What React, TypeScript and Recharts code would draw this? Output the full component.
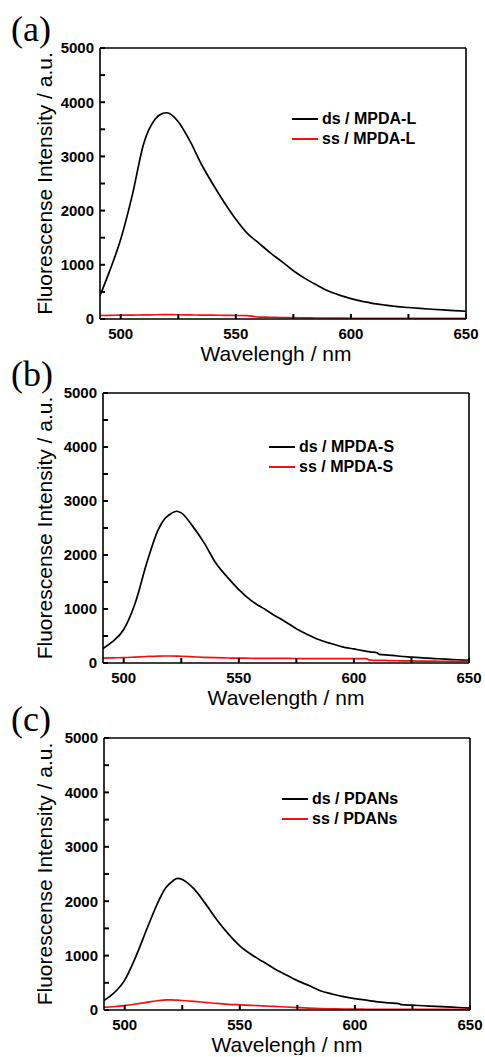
import React from 'react';
import { LineChart, Line, XAxis, YAxis, Legend } from 'recharts';

// wavelength grid shared by all three spectra (nm)
const wavelengths = [
  491, 495, 500, 505, 510, 515, 518, 520, 523, 525, 530, 535, 540, 545, 550, 555, 558, 560, 565, 570,
  575, 580, 585, 590, 595, 600, 605, 607, 610, 611, 615, 619, 620, 625, 630, 635, 640, 645, 650,
];

// (a) MPDA-L
const dsMpdaL = [
  430, 865, 1470, 2280, 3240, 3690, 3790, 3805, 3735, 3640, 3290, 2860, 2490, 2150, 1840, 1580, 1470, 1400, 1220, 1060,
  890, 750, 630, 520, 440, 375, 325, 310, 285, 278, 255, 235, 230, 212, 195, 180, 167, 155, 143,
];
const ssMpdaL = [
  65, 68, 70, 72, 75, 78, 80, 80, 80, 78, 75, 72, 70, 68, 65, 62, 45, 35, 32, 28,
  25, 20, 18, 16, 15, 14, 12, 12, 12, 12, 11, 11, 11, 10, 10, 10, 10, 10, 10,
];

// (b) MPDA-S
const dsMpdaS = [
  270, 390, 620, 1110, 1850, 2470, 2680, 2750, 2810, 2780, 2530, 2220, 1850, 1590, 1360, 1170, 1080, 1030, 895, 770,
  635, 525, 430, 360, 300, 260, 220, 205, 190, 160, 145, 130, 125, 110, 95, 82, 70, 60, 50,
];
const ssMpdaS = [
  90, 95, 100, 110, 120, 128, 130, 130, 128, 125, 115, 105, 98, 93, 90, 88, 87, 86, 85, 84,
  83, 82, 81, 80, 80, 80, 80, 55, 50, 50, 45, 42, 40, 38, 35, 33, 32, 30, 30,
];

// (c) PDANs
const dsPdans = [
  175, 300, 550, 1000, 1530, 2030, 2255, 2340, 2420, 2400, 2230, 1960, 1660, 1400, 1180, 1020, 940, 890, 760, 650,
  540, 450, 355, 295, 245, 210, 180, 168, 150, 145, 130, 118, 100, 88, 78, 66, 56, 46, 36,
];
const ssPdans = [
  50, 60, 80, 110, 145, 175, 186, 186, 180, 175, 160, 140, 120, 105, 95, 85, 80, 75, 65, 55,
  45, 35, 28, 22, 18, 15, 14, 13, 12, 12, 12, 11, 11, 10, 10, 10, 10, 10, 10,
];

// every tick is drawn (inward), only the major ones get a label
const xTicks = [500, 525, 550, 575, 600, 625, 650];
const xLabelled = [500, 550, 600, 650];
const yTicks = [0, 500, 1000, 1500, 2000, 2500, 3000, 3500, 4000, 4500, 5000];
const yLabelled = [0, 1000, 2000, 3000, 4000, 5000];

const SANS = '"Liberation Sans", Arial, sans-serif';
const frame = { stroke: '#000', strokeWidth: 1.6 };
const X_GAP = 9;
const Y_GAP = 6;
const TICK_LEN = 5;

// tick lines point into the plot, labels sit outside
const XTick = (props: any) => {
  const { x, y, payload } = props;
  const axisY = y - X_GAP;
  return (
    <g>
      <line x1={x} x2={x} y1={axisY} y2={axisY - TICK_LEN} stroke="#000" strokeWidth={2} />
      {xLabelled.includes(payload.value) && (
        <text x={x} y={y} dy="0.71em" textAnchor="middle" fontFamily={SANS} fontSize={15} fontWeight={700} fill="#000">
          {payload.value}
        </text>
      )}
    </g>
  );
};

const YTick = (props: any) => {
  const { x, y, payload } = props;
  const axisX = x + Y_GAP;
  return (
    <g>
      <line x1={axisX} x2={axisX + TICK_LEN} y1={y} y2={y} stroke="#000" strokeWidth={2} />
      {yLabelled.includes(payload.value) && (
        <text x={x} y={y} dy="0.355em" textAnchor="end" fontFamily={SANS} fontSize={15} fontWeight={700} fill="#000">
          {payload.value}
        </text>
      )}
    </g>
  );
};

const renderLegend = (props: any) => (
  <div style={{ fontFamily: SANS, fontWeight: 'bold', fontSize: 16, color: '#000' }}>
    {(props.payload || []).map((p: any) => (
      <div key={p.value} style={{ display: 'flex', alignItems: 'center', height: 20, whiteSpace: 'nowrap' }}>
        <svg width={26} height={4} style={{ display: 'block' }}>
          <line x1={0} y1={2} x2={26} y2={2} stroke={p.color} strokeWidth={2} />
        </svg>
        <span style={{ marginLeft: 4 }}>{p.value}</span>
      </div>
    ))}
  </div>
);

interface PanelProps {
  tag: string;
  top: number;
  leftWidth: number;
  right: number;
  axisHeight: number;
  ds: number[];
  ss: number[];
  dsName: string;
  ssName: string;
  xTitle: string;
  xTitleShift: number;
  legendLeft: number;
  legendTop: number;
}

const Panel: React.FC<PanelProps> = (p) => {
  const data = wavelengths.map((w, i) => ({ w, ds: p.ds[i], ss: p.ss[i] }));

  const xTitle = (props: any) => {
    const vb = props.viewBox || {};
    return (
      <text
        x={vb.x + vb.width / 2 + p.xTitleShift}
        y={vb.y + 34}
        textAnchor="middle"
        dominantBaseline="central"
        fontFamily={SANS}
        fontSize={21}
        fill="#000"
      >
        {p.xTitle}
      </text>
    );
  };

  const yTitle = (props: any) => {
    const vb = props.viewBox || {};
    const cx = 44;
    const cy = vb.y + vb.height / 2;
    return (
      <text
        x={cx}
        y={cy}
        transform={`rotate(-90, ${cx}, ${cy})`}
        textAnchor="middle"
        dominantBaseline="central"
        fontFamily={SANS}
        fontSize={21}
        fill="#000"
      >
        Fluorescense Intensity / a.u.
      </text>
    );
  };

  return (
    <div style={{ position: 'absolute', left: 0, top: p.top, width: 485, height: 365 }}>
      <div
        style={{
          position: 'absolute',
          left: 11,
          top: 11,
          fontFamily: '"Liberation Serif", "Times New Roman", serif',
          fontSize: 36,
          lineHeight: '36px',
          color: '#000',
          zIndex: 1,
        }}
      >
        {p.tag}
      </div>
      <LineChart width={485} height={365} data={data} margin={{ top: 48, right: p.right, left: 0, bottom: 0 }}>
        <XAxis
          xAxisId="x"
          dataKey="w"
          type="number"
          domain={[491, 650]}
          allowDataOverflow
          ticks={xTicks}
          interval={0}
          height={p.axisHeight}
          tickSize={0}
          tickMargin={X_GAP}
          tickLine={false}
          axisLine={frame}
          tick={<XTick />}
          label={xTitle}
        />
        <XAxis
          xAxisId="xt"
          dataKey="w"
          type="number"
          orientation="top"
          domain={[491, 650]}
          allowDataOverflow
          ticks={[]}
          mirror
          height={10}
          axisLine={frame}
          tickLine={false}
          tick={false}
        />
        <YAxis
          yAxisId="y"
          type="number"
          domain={[0, 5000]}
          allowDataOverflow
          ticks={yTicks}
          interval={0}
          width={p.leftWidth}
          tickSize={0}
          tickMargin={Y_GAP}
          tickLine={false}
          axisLine={frame}
          tick={<YTick />}
          label={yTitle}
        />
        <YAxis
          yAxisId="yr"
          type="number"
          orientation="right"
          domain={[0, 5000]}
          allowDataOverflow
          ticks={[]}
          mirror
          width={10}
          axisLine={frame}
          tickLine={false}
          tick={false}
        />
        <Legend
          layout="vertical"
          align="center"
          verticalAlign="middle"
          content={renderLegend}
          wrapperStyle={{ left: p.legendLeft, top: p.legendTop, width: 'auto', height: 'auto' }}
        />
        <Line
          xAxisId="x"
          yAxisId="y"
          dataKey="ds"
          name={p.dsName}
          type="monotone"
          stroke="#000"
          strokeWidth={1.7}
          dot={false}
          isAnimationActive={false}
        />
        <Line
          xAxisId="x"
          yAxisId="y"
          dataKey="ss"
          name={p.ssName}
          type="monotone"
          stroke="#ee1111"
          strokeWidth={1.7}
          dot={false}
          isAnimationActive={false}
        />
      </LineChart>
    </div>
  );
};

export default function App() {
  return (
    <div style={{ position: 'relative', width: 485, height: 1057, background: '#fff', overflow: 'hidden' }}>
      <style>{'body{margin:0;background:#fff}'}</style>
      <Panel
        tag="(a)"
        top={0}
        leftWidth={100}
        right={19}
        axisHeight={46}
        ds={dsMpdaL}
        ss={ssMpdaL}
        dsName="ds / MPDA-L"
        ssName="ss / MPDA-L"
        xTitle="Wavelengh / nm"
        xTitleShift={-7}
        legendLeft={292}
        legendTop={109}
      />
      <Panel
        tag="(b)"
        top={345}
        leftWidth={103}
        right={16}
        axisHeight={47}
        ds={dsMpdaS}
        ss={ssMpdaS}
        dsName="ds / MPDA-S"
        ssName="ss / MPDA-S"
        xTitle="Wavelength / nm"
        xTitleShift={0}
        legendLeft={269}
        legendTop={92}
      />
      <Panel
        tag="(c)"
        top={690}
        leftWidth={104}
        right={15}
        axisHeight={45}
        ds={dsPdans}
        ss={ssPdans}
        dsName="ds / PDANs"
        ssName="ss / PDANs"
        xTitle="Wavelengh / nm"
        xTitleShift={0}
        legendLeft={282}
        legendTop={99}
      />
    </div>
  );
}
